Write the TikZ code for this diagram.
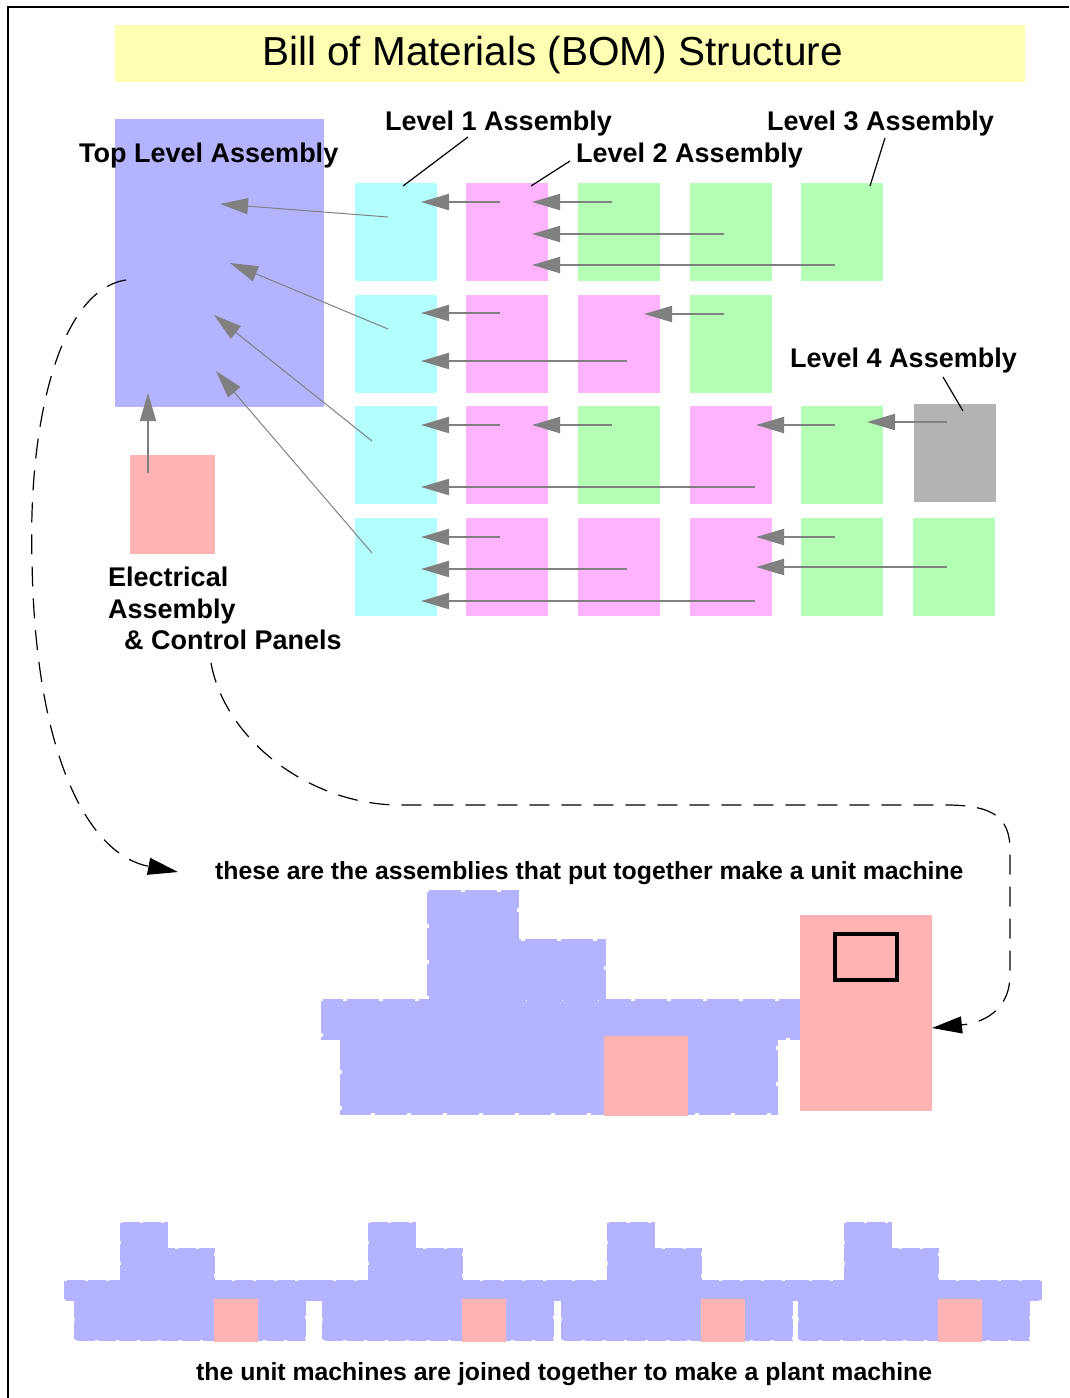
\documentclass[tikz,border=0pt]{standalone}
\usepackage{fontspec}
\setmainfont{Liberation Sans}
\usetikzlibrary{arrows.meta,positioning}

\definecolor{lav}{HTML}{B3B3FF}
\definecolor{lvlone}{HTML}{B3FFFF}
\definecolor{lvltwo}{HTML}{FFB3FF}
\definecolor{lvlthree}{HTML}{B3FFB3}
\definecolor{lvlfour}{HTML}{B3B3B3}
\definecolor{elec}{HTML}{FFB3B3}
\definecolor{banner}{HTML}{FFFFB3}
\definecolor{link}{HTML}{808080}

\tikzset{
  part/.style={minimum width=82pt, minimum height=98pt, inner sep=0pt, outer sep=0pt, anchor=north west},
  uses/.style={draw=link, line width=2pt, -{Triangle[length=28pt,width=16pt]}},
  feeds/.style={draw=link, line width=1pt, -{Triangle[length=28pt,width=16pt]}},
  lbl/.style={font=\bfseries\fontsize{27}{31.5}\selectfont, inner sep=0pt, anchor=base west},
  note/.style={font=\bfseries\fontsize{24.8}{29}\selectfont, inner sep=0pt, anchor=base west},
  pointer/.style={draw=black, line width=1.2pt},
  flow/.style={draw=black, line width=1.2pt, dash pattern=on 20pt off 12pt, -{Triangle[length=30pt,width=17pt]}},
  body/.style={fill=lav, draw=lav, line width=3.5pt, dash pattern=on 32pt off 4pt}
}

% one unit machine, origin at the top left of its tall block
\newcommand\unitbody{%
  \path[body] (0,0) rectangle (88,108);
  \path[body] (88,49) rectangle (175,108);
  \path[body] (-106,109) rectangle (371,146);
  \path[body] (-87,146) rectangle (347,221);
  \fill[elec] (175,144) rectangle (259,224);
}

\begin{document}
\begin{tikzpicture}[x=1pt,y=-1pt]
\useasboundingbox (0,0) rectangle (1069,1398);
\draw[line width=1.7pt] (8,1398) -- (8,7) -- (1069,7);

% title
\node[fill=banner, minimum width=910pt, minimum height=57pt, inner sep=0pt, anchor=north west] (banner) at (115,25) {};
\node[font=\fontsize{40.5}{44}\selectfont, inner sep=0pt, anchor=base west] (title) at (262,65) {Bill of Materials (BOM) Structure};

% top level and electrical
\node[fill=lav, minimum width=209pt, minimum height=288pt, inner sep=0pt, outer sep=0pt, anchor=north west] (top) at (115,119) {};
\node[fill=elec, minimum width=85pt, minimum height=99pt, inner sep=0pt, outer sep=0pt, anchor=north west] (elecbox) at (130,455) {};

% assemblies, one row per branch
\node[part, fill=lvlone] (b11) at (355,183) {};
\node[part, fill=lvltwo] (b12) at (466,183) {};
\node[part, fill=lvlthree] (b13) at (578,183) {};
\node[part, fill=lvlthree] (b14) at (690,183) {};
\node[part, fill=lvlthree] (b15) at (801,183) {};

\node[part, fill=lvlone] (b21) at (355,295) {};
\node[part, fill=lvltwo] (b22) at (466,295) {};
\node[part, fill=lvltwo] (b23) at (578,295) {};
\node[part, fill=lvlthree] (b24) at (690,295) {};

\node[part, fill=lvlone] (b31) at (355,406) {};
\node[part, fill=lvltwo] (b32) at (466,406) {};
\node[part, fill=lvlthree] (b33) at (578,406) {};
\node[part, fill=lvltwo] (b34) at (690,406) {};
\node[part, fill=lvlthree] (b35) at (801,406) {};
\node[part, fill=lvlfour] (b36) at (914,404) {};

\node[part, fill=lvlone] (b41) at (355,518) {};
\node[part, fill=lvltwo] (b42) at (466,518) {};
\node[part, fill=lvltwo] (b43) at (578,518) {};
\node[part, fill=lvltwo] (b44) at (690,518) {};
\node[part, fill=lvlthree] (b45) at (801,518) {};
\node[part, fill=lvlthree] (b46) at (913,518) {};

% labels
\node[lbl] (ltop) at (79,162) {Top Level Assembly};
\node[lbl] (lone) at (385,130) {Level 1 Assembly};
\node[lbl] (ltwo) at (576,162) {Level 2 Assembly};
\node[lbl] (lthree) at (767,130) {Level 3 Assembly};
\node[lbl] (lfour) at (790,367) {Level 4 Assembly};
\node[lbl, anchor=north west, align=left] (lelec) at (108,567) {Electrical\\Assembly\\\hspace*{16pt}\& Control Panels};

\draw[pointer] ([shift={(83,7)}]lone.base west) -- ([shift={(48,3)}]b11.north west);
\draw[pointer] ([shift={(-6,-1)}]ltwo.base west) -- ([shift={(65,3)}]b12.north west);
\draw[pointer] ([shift={(118,8)}]lthree.base west) -- ([shift={(69,3)}]b15.north west);
\draw[pointer] ([shift={(153,10)}]lfour.base west) -- ([shift={(49,7)}]b36.north west);

% part of
\draw[uses] ([shift={(34,19)}]b12.north west) -- ([shift={(66,19)}]b11.north west);
\draw[uses] ([shift={(34,19)}]b13.north west) -- ([shift={(66,19)}]b12.north west);
\draw[uses] ([shift={(34,51)}]b14.north west) -- ([shift={(66,51)}]b12.north west);
\draw[uses] ([shift={(34,82)}]b15.north west) -- ([shift={(66,82)}]b12.north west);

\draw[uses] ([shift={(34,18)}]b22.north west) -- ([shift={(66,18)}]b21.north west);
\draw[uses] ([shift={(34,19)}]b24.north west) -- ([shift={(66,19)}]b23.north west);
\draw[uses] ([shift={(49,66)}]b23.north west) -- ([shift={(66,66)}]b21.north west);

\draw[uses] ([shift={(34,19)}]b32.north west) -- ([shift={(66,19)}]b31.north west);
\draw[uses] ([shift={(34,19)}]b33.north west) -- ([shift={(66,19)}]b32.north west);
\draw[uses] ([shift={(34,19)}]b35.north west) -- ([shift={(66,19)}]b34.north west);
\draw[uses] ([shift={(33,18)}]b36.north west) -- ([shift={(66,16)}]b35.north west);
\draw[uses] ([shift={(65,81)}]b34.north west) -- ([shift={(66,81)}]b31.north west);

\draw[uses] ([shift={(34,19)}]b42.north west) -- ([shift={(66,19)}]b41.north west);
\draw[uses] ([shift={(34,19)}]b45.north west) -- ([shift={(66,19)}]b44.north west);
\draw[uses] ([shift={(34,49)}]b46.north west) -- ([shift={(66,49)}]b44.north west);
\draw[uses] ([shift={(49,51)}]b43.north west) -- ([shift={(66,51)}]b41.north west);
\draw[uses] ([shift={(65,83)}]b44.north west) -- ([shift={(66,83)}]b41.north west);

\draw[feeds] ([shift={(33,34)}]b11.north west) -- ([shift={(105,85)}]top.north west);
\draw[feeds] ([shift={(33,34)}]b21.north west) -- ([shift={(115,144)}]top.north west);
\draw[feeds] ([shift={(17,35)}]b31.north west) -- ([shift={(99,196)}]top.north west);
\draw[feeds] ([shift={(17,35)}]b41.north west) -- ([shift={(101,252)}]top.north west);
\draw[uses] ([shift={(18,18)}]elecbox.north west) -- ([shift={(33,274)}]top.north west);

% unit machine
\begin{scope}[shift={(429,892)}]
\unitbody
\end{scope}
\node[fill=elec, minimum width=132pt, minimum height=196pt, inner sep=0pt, outer sep=0pt, anchor=north west] (cab) at (800,915) {};
\node[draw=black, line width=4pt, minimum width=62pt, minimum height=46pt, inner sep=0pt, anchor=north west] (panel) at (833,932) {};

% plant machine
\begin{scope}[body/.append style={line width=1.6pt, dash pattern=on 18pt off 3pt}]
\begin{scope}[shift={(121,1223)}, scale=0.53] \unitbody \end{scope}
\begin{scope}[shift={(369,1223)}, scale=0.53] \unitbody \end{scope}
\begin{scope}[shift={(608,1223)}, scale=0.53] \unitbody \end{scope}
\begin{scope}[shift={(845,1223)}, scale=0.53] \unitbody \end{scope}
\end{scope}

\node[note] (unitnote) at (215,879) {these are the assemblies that put together make a unit machine};
\node[note] (plantnote) at (196,1380) {the unit machines are joined together to make a plant machine};

% where the assemblies end up
\draw[flow] ([shift={(11,161)}]top.north west) .. controls (60,290) and (28,420) .. (32,560)
  .. controls (35,760) and (90,855) .. ([shift={(-37,-7)}]unitnote.base west);
\draw[flow] ([shift={(103,96)}]lelec.north west) .. controls (225,740) and (310,805) .. (400,805) -- (950,805)
  .. controls (990,806) and (1010,815) .. (1010,850) -- (1010,975)
  .. controls (1010,1005) and (990,1022) .. ([shift={(0,15)}]cab.east);
\end{tikzpicture}
\end{document}
